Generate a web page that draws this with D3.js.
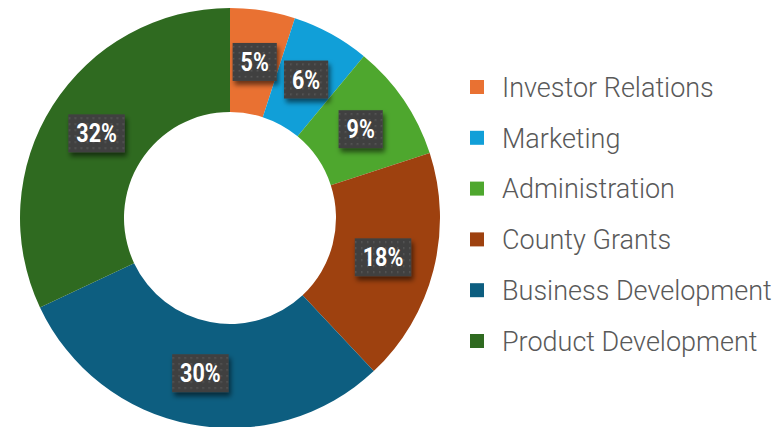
<!DOCTYPE html>
<html>
<head>
<meta charset="utf-8">
<script src="https://cdn.jsdelivr.net/npm/d3@7"></script>
<style>
  body { margin: 0; background: #fff; }
  svg { display: block; }
</style>
</head>
<body>
<svg class="chart" width="776" height="427"></svg>
<script>
const categories = ['Investor Relations', 'Marketing', 'Administration', 'County Grants', 'Business Development', 'Product Development']
const shares = [5, 6, 9, 18, 30, 32]
const colors = ['#E97132', '#119FD8', '#4EA72E', '#9E410F', '#0D5E80', '#2F6A20']

const data = categories.map((c, i) => ({name: c, value: shares[i], color: colors[i]}))

const svg = d3.select('.chart')
const cx = 230, cy = 218
const outer = 210, inner = 106

const defs = svg.append('defs')
const pat = defs.append('pattern')
    .attr('id', 'dots')
    .attr('width', 6)
    .attr('height', 6)
    .attr('patternUnits', 'userSpaceOnUse')
pat.append('rect').attr('width', 6).attr('height', 6).attr('fill', '#414141')
pat.append('rect').attr('x', 2).attr('y', 2).attr('width', 1.5).attr('height', 1.5).attr('fill', '#5a5a5a')

const shadow = defs.append('filter').attr('id', 'shadow')
    .attr('x', '-30%').attr('y', '-30%').attr('width', '160%').attr('height', '180%')
shadow.append('feDropShadow')
    .attr('dx', 2).attr('dy', 4).attr('stdDeviation', 2.5)
    .attr('flood-color', '#000').attr('flood-opacity', 0.55)

const pie = d3.pie().value(d => d.value).sort(null)
const arc = d3.arc().innerRadius(inner).outerRadius(outer)
const arcs = pie(data)

const g = svg.append('g').attr('transform', `translate(${cx},${cy})`)

g.selectAll('path')
    .data(arcs)
    .join('path')
        .attr('d', arc)
        .attr('fill', d => d.data.color)

const labels = g.selectAll('g.lbl')
    .data(arcs)
    .join('g')
        .attr('class', 'lbl')
        .attr('transform', d => `translate(${arc.centroid(d)})`)

// label text is a bold condensed face, so squeeze Roboto Bold a little
const sx = 0.86
labels.each(function(d) {
    const el = d3.select(this)
    const t = el.append('text')
        .text(d.data.value + '%')
        .attr('text-anchor', 'middle')
        .attr('dy', '0.36em')
        .attr('font-family', 'Roboto, sans-serif')
        .attr('font-weight', 700)
        .attr('font-size', '25px')
        .attr('fill', '#fff')
        .attr('transform', `scale(${sx},1)`)
    const w = t.node().getComputedTextLength() * sx + 16
    el.insert('rect', 'text')
        .attr('x', -w / 2)
        .attr('y', -19)
        .attr('width', w)
        .attr('height', 38)
        .attr('fill', 'url(#dots)')
        .attr('filter', 'url(#shadow)')
})

const rowY = d3.scalePoint(categories, [87, 341])

const legend = svg.append('g')
    .selectAll('g')
    .data(data)
    .join('g')
        .attr('transform', d => `translate(470,${rowY(d.name)})`)

legend.append('rect')
    .attr('y', -7)
    .attr('width', 14)
    .attr('height', 14)
    .attr('fill', d => d.color)

legend.append('text')
    .text(d => d.name)
    .attr('x', 32)
    .attr('dy', '0.36em')
    .attr('font-family', 'Roboto, sans-serif')
    .attr('font-weight', 300)
    .attr('font-size', '27px')
    .attr('fill', '#595959')
</script>
</body>
</html>
